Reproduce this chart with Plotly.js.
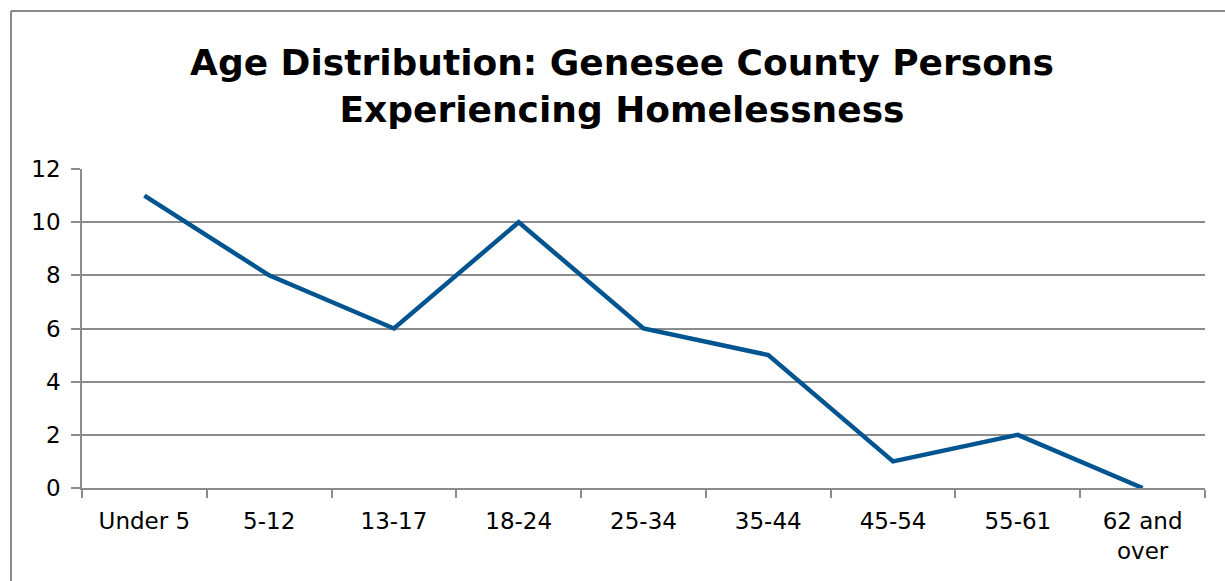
<!DOCTYPE html>
<html>
<head>
<meta charset="utf-8">
<script src="https://cdn.plot.ly/plotly-3.0.1.min.js"></script>
<style>
html,body{margin:0;padding:0;background:#fff;}
#chart{width:1225px;height:581px;}
</style>
</head>
<body>
<div id="chart"></div>
<script>
var categories = ["Under 5", "5-12", "13-17", "18-24", "25-34", "35-44", "45-54", "55-61", "62 and<br>over"];
var persons = [11, 8, 6, 10, 6, 5, 1, 2, 0];
var yTicks = [0, 2, 4, 6, 8, 10, 12];
var titleText = "Age Distribution: Genesee County Persons<br>Experiencing Homelessness";

var W = 1225, H = 581;
var m = {l: 82, r: 20, t: 169, b: 93};
var pw = W - m.l - m.r, ph = H - m.t - m.b;
function px2x(px){ return (px - m.l) / pw; }
function py2y(py){ return (H - m.b - py) / ph; }

var font = "DejaVu Sans, Liberation Sans, sans-serif";
var gridColor = "#8c8c8c";

var trace = {
  type: "scatter",
  mode: "lines",
  x: categories,
  y: persons,
  line: {color: "#00548f", width: 4.5},
  hoverinfo: "x+y"
};

var layout = {
  width: W, height: H,
  margin: m,
  paper_bgcolor: "#ffffff",
  plot_bgcolor: "#ffffff",
  showlegend: false,
  title: {
    text: titleText,
    font: {family: font, size: 36, color: "#000000", weight: "bold"},
    x: 622 / W, xref: "container", xanchor: "center",
    y: 1 - 75 / H, yref: "container", yanchor: "middle"
  },
  xaxis: {
    type: "category",
    showline: true, linecolor: gridColor, linewidth: 1.5,
    ticks: "outside", tickson: "boundaries", ticklen: 8, tickwidth: 1.5, tickcolor: gridColor,
    showgrid: false, zeroline: false,
    tickfont: {family: font, size: 23, color: "#000000"},
    ticklabelstandoff: 12,
    range: [-0.5, categories.length - 0.5]
  },
  yaxis: {
    range: [0, 12],
    tickvals: yTicks,
    ticktext: yTicks.map(String),
    showline: true, linecolor: gridColor, linewidth: 1.5,
    ticks: "outside", ticklen: 9, tickwidth: 1.5, tickcolor: gridColor,
    showgrid: true, gridcolor: gridColor, gridwidth: 1.5,
    zeroline: false,
    tickfont: {family: font, size: 23, color: "#000000"},
    ticklabelstandoff: 6
  },
  shapes: [
    {type: "line", xref: "paper", yref: "paper", x0: px2x(11), x1: px2x(11), y0: py2y(11), y1: py2y(600),
     line: {color: "#8a8a8a", width: 2}},
    {type: "line", xref: "paper", yref: "paper", x0: px2x(11), x1: px2x(1260), y0: py2y(11), y1: py2y(11),
     line: {color: "#8a8a8a", width: 2}}
  ]
};

Plotly.newPlot("chart", [trace], layout, {displayModeBar: false});
</script>
</body>
</html>
